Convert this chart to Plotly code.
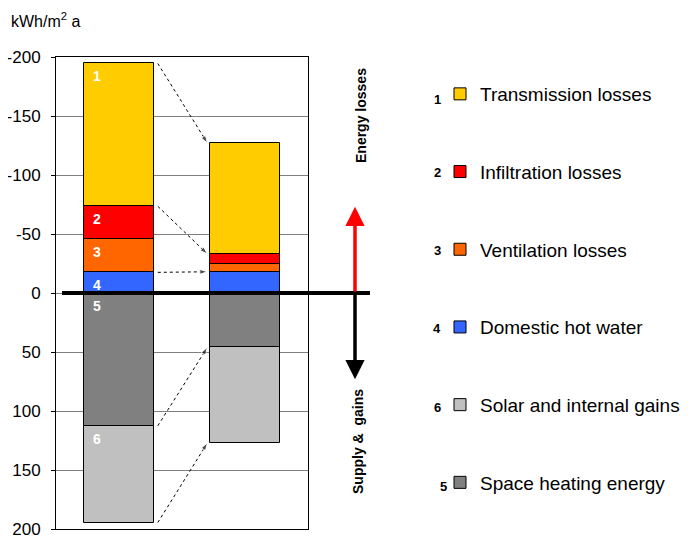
import plotly.graph_objects as go

# ---------------- data ----------------
buildings = ["Existing", "Renovated"]
transmission = [121, 94]
infiltration = [28, 8]
ventilation = [28, 7]
hot_water = [17.5, 18]
space_heating = [112.5, 46]
solar_gains = [82, 81]

y_ticks = [-200, -150, -100, -50, 0, 50, 100, 150, 200]
unit_label = "kWh/m<sup>2</sup> a"

FONT = "Liberation Sans, Arial, sans-serif"
W = 0.556  # bar width
xs = [0, 1]

# page body margin offsets the figure by 8 px inside the window
OFF = 8
FIG_W, FIG_H = 691 - OFF, 539 - OFF
# plot area in window pixels
L, R, T, B = 56, 308, 57, 529
def px_x(p):
    return (p - L) / (R - L)
def px_y(p):
    return (B - p) / (B - T)

fig = go.Figure()

# negative stack (losses) – first trace sits next to zero
series = [
    ("Domestic hot water", [-v for v in hot_water], "#3366FF", 4),
    ("Ventilation losses", [-v for v in ventilation], "#FF6600", 3),
    ("Infiltration losses", [-v for v in infiltration], "#FF0000", 2),
    ("Transmission losses", [-v for v in transmission], "#FFCC00", 1),
    ("Space heating energy", space_heating, "#808080", 6),
    ("Solar and internal gains", solar_gains, "#C0C0C0", 5),
]
for name, vals, col, rank in series:
    fig.add_trace(go.Bar(
        x=xs, y=vals, name=name, width=W,
        marker=dict(color=col, line=dict(color="black", width=1)),
        legendgroup=name, legendrank=rank, hoverinfo="skip",
    ))

# ---------- dotted connectors between the two bars ----------
def edges(i):
    d = hot_water[i]
    v = d + ventilation[i]
    inf = v + infiltration[i]
    t = inf + transmission[i]
    sh = space_heating[i]
    sg = sh + solar_gains[i]
    return [-t, -inf, -d, sh, sg]

e0, e1 = edges(0), edges(1)
x_start = xs[0] + W / 2 + 0.03
x_end = xs[1] - W / 2 - 0.02
for a, b in zip(e0, e1):
    fig.add_trace(go.Scatter(
        x=[x_start, x_end], y=[a, b], mode="lines+markers",
        line=dict(color="black", width=1, dash="dot"),
        marker=dict(symbol="arrow", size=[0, 8], angleref="previous", color="black"),
        showlegend=False, hoverinfo="skip",
    ))

annotations = []

# white segment numbers on the first bar
seg_labels = [("1", e0[0]), ("2", e0[1]), ("3", -(hot_water[0] + ventilation[0])),
              ("4", -hot_water[0]), ("5", 0), ("6", space_heating[0])]
for txt, yv in seg_labels:
    annotations.append(dict(
        x=xs[0] - W / 2 + 0.1, y=yv, xref="x", yref="y", text=txt, showarrow=False,
        xanchor="center", yanchor="top", yshift=-3,
        font=dict(family=FONT, size=14, color="white", weight="bold"),
    ))

# unit label
annotations.append(dict(x=px_x(9), y=px_y(20), xref="paper", yref="paper", text=unit_label,
                        showarrow=False, xanchor="left", yanchor="middle",
                        font=dict(family=FONT, size=16, color="black")))

# direction arrows
ARROW_EXTENT = 73
arrow_x = px_x(355)
annotations.append(dict(x=arrow_x, y=-ARROW_EXTENT, xref="paper", yref="y",
                        ax=0, ay=0, axref="pixel", ayref="y", showarrow=True,
                        arrowhead=2, arrowsize=1.1, arrowwidth=3.5, arrowcolor="#FF0000", text=""))
annotations.append(dict(x=arrow_x, y=ARROW_EXTENT, xref="paper", yref="y",
                        ax=0, ay=0, axref="pixel", ayref="y", showarrow=True,
                        arrowhead=2, arrowsize=1.1, arrowwidth=3.5, arrowcolor="black", text=""))

annotations.append(dict(x=px_x(361), y=px_y(116), xref="paper", yref="paper", text="<b>Energy losses</b>",
                        textangle=-90, showarrow=False, xanchor="center", yanchor="middle",
                        font=dict(family=FONT, size=14, color="black")))
annotations.append(dict(x=px_x(358), y=px_y(442), xref="paper", yref="paper", text="<b>Supply &amp;  gains</b>",
                        textangle=-90, showarrow=False, xanchor="center", yanchor="middle",
                        font=dict(family=FONT, size=14, color="black")))

# legend numbers
leg_nums = [("1", 437, 99), ("2", 437, 172), ("3", 437, 250), ("4", 437, 328), ("6", 437, 407), ("5", 443, 486)]
for txt, px, py in leg_nums:
    annotations.append(dict(x=px_x(px), y=px_y(py), xref="paper", yref="paper", text=txt,
                            showarrow=False, xanchor="center", yanchor="middle",
                            font=dict(family=FONT, size=13, color="black", weight="bold")))

shapes = [dict(type="line", xref="paper", yref="y", x0=px_x(62), x1=px_x(370), y0=0, y1=0,
               line=dict(color="black", width=4), layer="above")]

fig.update_layout(
    width=FIG_W, height=FIG_H,
    margin=dict(l=L - OFF, r=FIG_W - (R - OFF), t=T - OFF, b=FIG_H - (B - OFF), autoexpand=False),
    paper_bgcolor="white", plot_bgcolor="white",
    barmode="relative", bargap=0,
    font=dict(family=FONT, size=17, color="black"),
    showlegend=True,
    legend=dict(x=px_x(440), y=px_y(75), xanchor="left", yanchor="top",
                traceorder="grouped", tracegroupgap=50,
                font=dict(family=FONT, size=19, color="black"),
                bgcolor="rgba(0,0,0,0)", itemclick=False),
    annotations=annotations, shapes=shapes,
    xaxis=dict(range=[-0.5, 1.5], showticklabels=False, showgrid=False, zeroline=False,
               showline=True, mirror=True, linecolor="black", linewidth=1, ticks="",
               automargin=False),
    yaxis=dict(range=[200, -200], tickvals=y_ticks, ticktext=[str(v) for v in y_ticks],
               showgrid=True, gridcolor="#808080", gridwidth=1, zeroline=False,
               showline=True, mirror=True, linecolor="black", linewidth=1,
               ticks="outside", ticklen=4, tickcolor="black", automargin=False,
               ticklabelstandoff=7,
               tickfont=dict(family=FONT, size=17, color="black")),
)

fig.write_html("out.html")
